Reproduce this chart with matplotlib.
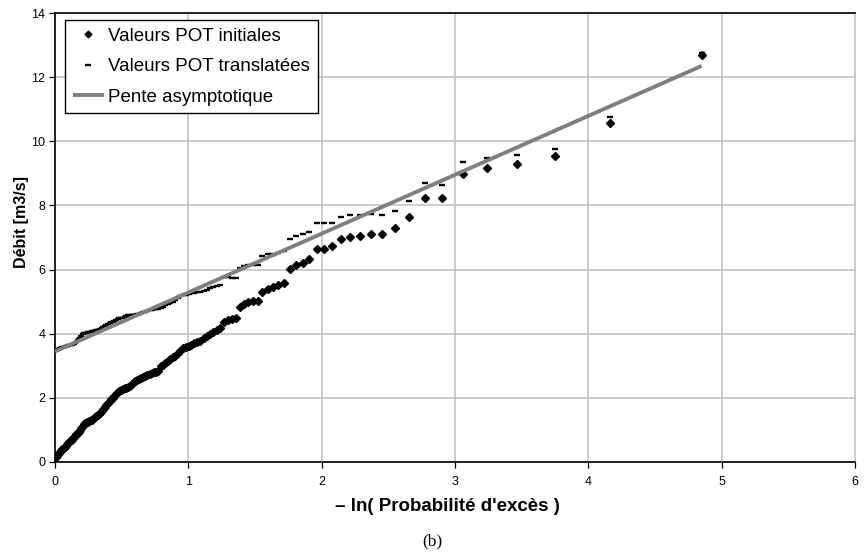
import numpy as np
import matplotlib
matplotlib.use("Agg")
import matplotlib.pyplot as plt

# ---- data -------------------------------------------------------------
n_points = 127
rank = np.arange(n_points, 0, -1)               # rank 127 (smallest) ... 1 (largest)
prob_exces = rank / (n_points + 1)              # exceedance probability of each POT value

# Valeurs POT initiales (ordered by increasing -ln(P))
y_init = [
    0.15, 0.20, 0.24, 0.28, 0.32, 0.36, 0.40, 0.43, 0.47, 0.51,
    0.55, 0.58, 0.62, 0.66, 0.70, 0.74, 0.78, 0.82, 0.86, 0.90,
    0.95, 1.00, 1.06, 1.12, 1.18, 1.22, 1.24, 1.26, 1.28, 1.30,
    1.32, 1.35, 1.40, 1.44, 1.47, 1.50, 1.54, 1.59, 1.65, 1.71,
    1.77, 1.83, 1.89, 1.95, 2.01, 2.06, 2.12, 2.17, 2.21, 2.25,
    2.28, 2.31, 2.32, 2.34, 2.36, 2.42, 2.48, 2.54, 2.57, 2.60,
    2.63, 2.66, 2.69, 2.72, 2.75, 2.78, 2.80, 2.82, 2.85, 2.99,
    3.04, 3.08, 3.14, 3.20, 3.26, 3.32, 3.39, 3.45, 3.55, 3.58,
    3.62, 3.66, 3.70, 3.74, 3.78, 3.86, 3.94, 4.00, 4.05, 4.12,
    4.17,
    4.37, 4.43, 4.45, 4.48, 4.84, 4.93, 4.98, 5.01, 5.03, 5.31,
    5.38, 5.45, 5.52, 5.59, 6.01, 6.14, 6.22, 6.33, 6.63, 6.65,
    6.72, 6.94, 7.02, 7.06, 7.11, 7.12, 7.29, 7.64, 8.23, 8.24,
    8.99, 9.17, 9.30, 9.53, 10.58, 12.69,
]

# Valeurs POT translatées
y_trans = [
    3.48, 3.50, 3.52, 3.53, 3.55, 3.56, 3.58, 3.58, 3.60, 3.61,
    3.62, 3.63, 3.64, 3.65, 3.66, 3.67, 3.69, 3.72, 3.75, 3.79,
    3.83, 3.88, 3.93, 3.98, 4.01, 4.02, 4.03, 4.04, 4.05, 4.06,
    4.07, 4.08, 4.10, 4.11, 4.12, 4.13, 4.15, 4.18, 4.21, 4.24,
    4.27, 4.30, 4.32, 4.35, 4.38, 4.41, 4.44, 4.46, 4.48, 4.49,
    4.50, 4.52, 4.55, 4.57, 4.58, 4.58, 4.58, 4.59, 4.61, 4.63,
    4.65, 4.67, 4.69, 4.71, 4.73, 4.75, 4.76, 4.77, 4.78, 4.80,
    4.84, 4.88, 4.92, 4.96, 5.00, 5.06, 5.12, 5.18, 5.21, 5.22,
    5.24, 5.26, 5.28, 5.29, 5.31, 5.33, 5.37, 5.42, 5.47, 5.50,
    5.52,
    5.78, 5.77, 5.75, 5.73, 6.06, 6.10, 6.14, 6.15, 6.14, 6.42,
    6.47, 6.50, 6.53, 6.58, 6.95, 7.05, 7.11, 7.17, 7.44, 7.44,
    7.46, 7.65, 7.71, 7.71, 7.73, 7.69, 7.83, 8.14, 8.69, 8.65,
    9.35, 9.49, 9.58, 9.76, 10.76, 12.74,
]

# Pente asymptotique (end points)
line_x = [0.0, 4.85]
line_y = [3.45, 12.35]

x_ticks = [0, 1, 2, 3, 4, 5, 6]
y_ticks = [0, 2, 4, 6, 8, 10, 12, 14]

# ---- figure -----------------------------------------------------------
x_val = -np.log(prob_exces)

plt.rcParams["font.family"] = ["Liberation Sans", "DejaVu Sans"]

W, H = 864, 558
fig = plt.figure(figsize=(W / 100, H / 100), dpi=100)
ax = fig.add_axes([55 / W, 1 - 462 / H, 800 / W, 449 / H])

ax.plot(x_val, y_init, ls="none", marker="D", ms=4.3, color="black",
        label="Valeurs POT initiales", zorder=3)
ax.plot(x_val, y_trans, ls="none", marker="_", ms=5, mew=1.7, color="black",
        label="Valeurs POT translatées", zorder=3)
ax.plot(line_x, line_y, color="#7f7f7f", lw=2.8, label="Pente asymptotique",
        zorder=4, solid_capstyle="butt")

ax.set_xlim(0, 6)
ax.set_ylim(0, 14)
ax.set_xticks(x_ticks)
ax.set_yticks(y_ticks)
ax.grid(True, color="#c8c8c8", lw=1.3)
ax.set_axisbelow(True)

for s in ("left", "bottom", "top"):
    ax.spines[s].set_color("black")
    ax.spines[s].set_linewidth(1.2)
ax.spines["right"].set_color("#c8c8c8")
ax.spines["right"].set_linewidth(1.3)

ax.tick_params(direction="out", length=4, width=0.9, labelsize=9, pad=3)
ax.tick_params(axis="x", pad=6)

ax.set_xlabel("– ln( Probabilité d'excès )", fontsize=13.5, fontweight="bold")
ax.xaxis.set_label_coords(0.49, -0.08)
ax.set_ylabel("Débit [m3/s]", fontsize=11.5, fontweight="bold")
ax.yaxis.set_label_coords(-0.033, 0.535)

leg = ax.legend(loc="upper left", bbox_to_anchor=(65 / W, 1 - 20 / H),
                bbox_transform=fig.transFigure, borderaxespad=0,
                fancybox=False, frameon=True, fontsize=13.5,
                handlelength=1.7, handletextpad=0.2, labelspacing=0.72,
                borderpad=0.4, markerscale=0.8)
leg.get_frame().set_edgecolor("black")
leg.get_frame().set_linewidth(1.0)
leg.get_frame().set_alpha(1)

fig.text(0.5, 1 - 541 / H, "(b)", ha="center", va="center",
         fontsize=12.5, family=["Liberation Serif", "DejaVu Serif"])

fig.savefig("out.png", dpi=100)
